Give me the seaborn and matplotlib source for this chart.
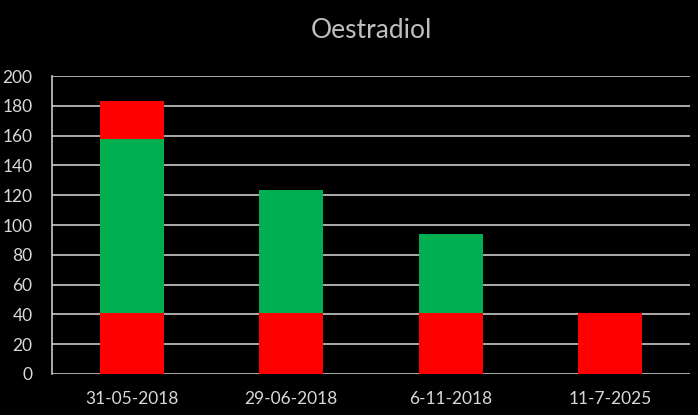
import numpy as np
import pandas as pd
import matplotlib
matplotlib.use('Agg')
import matplotlib.pyplot as plt
import seaborn as sns

# --- data ---
dates = ['31-05-2018', '29-06-2018', '6-11-2018', '11-7-2025']
base_red = [41, 41, 41, 41]       # lower red segment
green = [117, 82.5, 53, 0]        # green segment
top_red = [25, 0, 0, 0]           # upper red segment
y_ticks = list(range(0, 201, 20))

RED = '#FF0000'
GREEN = '#00B050'
GRID = '#D9D9D9'
TEXT = '#D9D9D9'

# cumulative heights, drawn back to front so they look stacked
lvl1 = np.array(base_red, dtype=float)
lvl2 = lvl1 + np.array(green)
lvl3 = lvl2 + np.array(top_red)
df = pd.DataFrame({'date': dates, 'lvl1': lvl1, 'lvl2': lvl2, 'lvl3': lvl3})

sns.set_theme(style='dark')
plt.rcParams['font.family'] = ['Lato', 'DejaVu Sans']

fig = plt.figure(figsize=(6.98, 4.15), dpi=100, facecolor='black')
ax = fig.add_axes([0.0745, 0.0988, 0.914, 0.718])
ax.set_facecolor('black')

for col, c in [('lvl3', RED), ('lvl2', GREEN), ('lvl1', RED)]:
    sns.barplot(data=df, x='date', y=col, color=c, width=0.4,
                saturation=1, ax=ax, zorder=3, linewidth=0)

ax.set_ylim(0, 200)
ax.set_xlim(-0.5, 3.5)
ax.set_yticks(y_ticks)
ax.grid(axis='y', color=GRID, linewidth=1.1, zorder=0)
ax.grid(axis='x', visible=False)
for s in ['top', 'right', 'bottom']:
    ax.spines[s].set_visible(False)
ax.spines['left'].set_color(GRID)
ax.spines['left'].set_linewidth(1.1)
ax.tick_params(axis='both', length=0, colors=TEXT, labelsize=12.5)
ax.tick_params(axis='x', pad=12)
ax.tick_params(axis='y', pad=14)
ax.set_xlabel('')
ax.set_ylabel('')

fig.text(0.532, 0.927, 'Oestradiol', ha='center', va='center',
         color='#BFBFBF', fontsize=19)

fig.savefig('out.png', dpi=100, facecolor='black')
